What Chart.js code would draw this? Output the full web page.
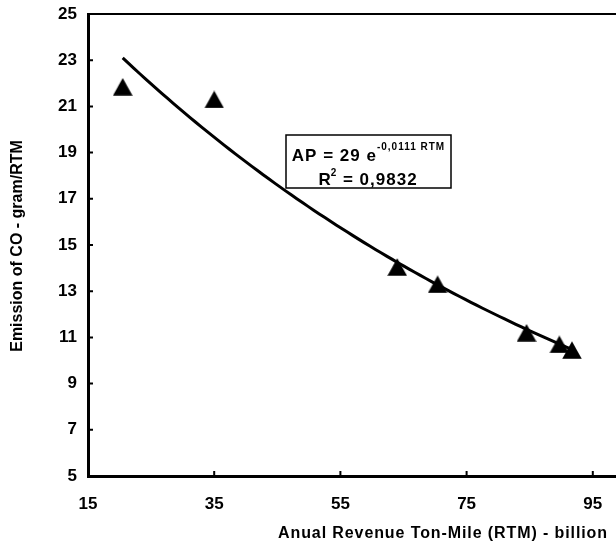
<!DOCTYPE html>
<html>
<head>
<meta charset="utf-8">
<script src="https://cdn.jsdelivr.net/npm/chart.js@4/dist/chart.umd.min.js"></script>
<style>
  html, body { margin: 0; padding: 0; background: #fff; overflow: hidden; }
  #wrap { width: 740px; height: 545px; }
</style>
</head>
<body>
<div id="wrap"><canvas id="c" width="740" height="545"></canvas></div>
<script>
// Annual revenue ton-miles (billion) and CO emission per RTM (gram)
const rtm = [20.5, 35.0, 64.0, 70.4, 84.5, 89.7, 91.7];
const emission = [21.85, 21.3, 14.05, 13.3, 11.2, 10.7, 10.45];

// Axis tick values
const xTickValues = [15, 35, 55, 75, 95, 115];
const yTickValues = [5, 7, 9, 11, 13, 15, 17, 19, 21, 23, 25];

// Exponential fit AP = a * e^(b * RTM)
const fitA = 29;
const fitB = -0.0111;
const fitR2 = '0,9832';

const xTitle = 'Anual Revenue Ton-Mile (RTM) - billion';
const yTitle = 'Emission of CO - gram/RTM';

// Fitted curve sampled across the observed RTM range
const fitCurve = [];
{
  const x0 = Math.min(...rtm), x1 = Math.max(...rtm);
  const n = 80;
  for (let i = 0; i <= n; i++) {
    const x = x0 + (x1 - x0) * i / n;
    fitCurve.push({ x, y: fitA * Math.exp(fitB * x) });
  }
}

// Solid triangle marker centred in its bounding box
const tri = document.createElement('canvas');
tri.width = 20; tri.height = 18;
{
  const t = tri.getContext('2d');
  t.fillStyle = '#000';
  t.beginPath();
  t.moveTo(10, 0.3);
  t.lineTo(19.8, 17.8);
  t.lineTo(0.2, 17.8);
  t.closePath();
  t.fill();
}

const FONT = '"Liberation Sans", Arial, sans-serif';

const decorations = {
  id: 'decorations',
  afterDraw(chart) {
    const { ctx, chartArea: a, scales } = chart;
    ctx.save();
    ctx.strokeStyle = '#000';

    // top frame line
    ctx.lineWidth = 2;
    ctx.beginPath();
    ctx.moveTo(a.left, a.top);
    ctx.lineTo(a.right, a.top);
    ctx.stroke();

    // inward tick marks
    ctx.lineWidth = 2;
    ctx.beginPath();
    yTickValues.forEach(v => {
      const y = scales.y.getPixelForValue(v);
      ctx.moveTo(a.left, y);
      ctx.lineTo(a.left + 5, y);
    });
    xTickValues.forEach(v => {
      const x = scales.x.getPixelForValue(v);
      ctx.moveTo(x, a.bottom);
      ctx.lineTo(x, a.bottom - 5);
    });
    ctx.stroke();

    // axis titles
    ctx.fillStyle = '#000';
    ctx.textAlign = 'center';
    ctx.textBaseline = 'alphabetic';
    ctx.font = 'bold 16px ' + FONT;
    ctx.letterSpacing = '0.9px';
    ctx.fillText(xTitle, 443, 538);
    ctx.letterSpacing = '0px';
    ctx.textBaseline = 'middle';
    ctx.save();
    ctx.translate(18, 246);
    ctx.rotate(-Math.PI / 2);
    ctx.fillText(yTitle, 0, 0);
    ctx.restore();

    // equation box
    const bx = 286, by = 135, bw = 165, bh = 53;
    ctx.fillStyle = '#fff';
    ctx.fillRect(bx, by, bw, bh);
    ctx.lineWidth = 1.5;
    ctx.strokeRect(bx, by, bw, bh);

    ctx.fillStyle = '#000';
    ctx.textAlign = 'left';
    ctx.textBaseline = 'alphabetic';
    ctx.letterSpacing = '1px';
    const main = 'bold 17px ' + FONT;
    const sup = 'bold 10px ' + FONT;
    const cx = bx + bw / 2;

    const l1a = 'AP = ' + fitA + ' e';
    const l1b = fitB.toFixed(4).replace('.', ',') + ' RTM';
    ctx.font = main; const w1a = ctx.measureText(l1a).width;
    ctx.font = sup; const w1b = ctx.measureText(l1b).width;
    let x = cx - (w1a + w1b) / 2;
    ctx.font = main; ctx.fillText(l1a, x, 161);
    ctx.font = sup; ctx.fillText(l1b, x + w1a, 150);

    const l2a = 'R', l2b = '2', l2c = ' = ' + fitR2;
    ctx.font = main; const w2a = ctx.measureText(l2a).width, w2c = ctx.measureText(l2c).width;
    ctx.font = sup; const w2b = ctx.measureText(l2b).width;
    x = cx - (w2a + w2b + w2c) / 2;
    ctx.font = main; ctx.fillText(l2a, x, 185);
    ctx.font = sup; ctx.fillText(l2b, x + w2a - 1, 176);
    ctx.font = main; ctx.fillText(l2c, x + w2a + w2b - 1, 185);

    ctx.restore();
  }
};

new Chart(document.getElementById('c'), {
  type: 'scatter',
  data: {
    datasets: [
      {
        label: 'Fit',
        type: 'line',
        data: fitCurve,
        borderColor: '#000',
        borderWidth: 3,
        pointRadius: 0,
        tension: 0,
        fill: false,
        order: 2
      },
      {
        label: 'CO',
        data: rtm.map((v, i) => ({ x: v, y: emission[i] })),
        pointStyle: tri,
        pointRadius: 10,
        backgroundColor: '#000',
        borderColor: '#000',
        order: 1
      }
    ]
  },
  options: {
    responsive: false,
    animation: false,
    events: [],
    layout: { padding: { top: 14, right: 21, left: 0, bottom: 0 } },
    plugins: { legend: { display: false }, tooltip: { enabled: false } },
    scales: {
      x: {
        type: 'linear',
        min: 15, max: 115,
        afterBuildTicks: s => { s.ticks = xTickValues.map(v => ({ value: v })); },
        afterFit: s => { s.height = 69; s.paddingLeft = 0; s.paddingRight = 0; },
        grid: { display: false, drawTicks: false },
        border: { display: true, color: '#000', width: 3 },
        ticks: { color: '#000', font: { family: FONT, size: 17, weight: 'bold' }, padding: 18, maxRotation: 0 }
      },
      y: {
        type: 'linear',
        min: 5, max: 25,
        afterBuildTicks: s => { s.ticks = yTickValues.map(v => ({ value: v })); },
        afterFit: s => { s.width = 88; s.paddingTop = 0; s.paddingBottom = 0; },
        grid: { display: false, drawTicks: false },
        border: { display: true, color: '#000', width: 3 },
        ticks: { color: '#000', font: { family: FONT, size: 17, weight: 'bold' }, padding: 11 }
      }
    }
  },
  plugins: [decorations]
});
</script>
</body>
</html>
